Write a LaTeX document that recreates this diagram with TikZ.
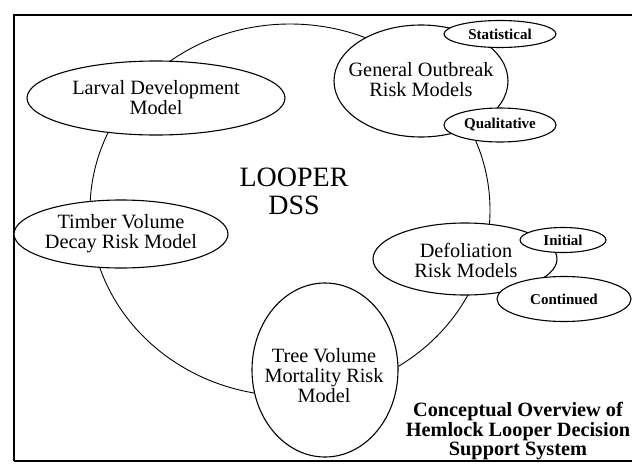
\documentclass[tikz,border=0pt]{standalone}
\usepackage{fontspec}
\setmainfont{Liberation Serif}
\usetikzlibrary{shapes.geometric}
\tikzset{
  bub/.style={draw, ellipse, fill=white, line width=1.1pt, inner sep=0pt},
  txt/.style={align=center, inner sep=0pt, font=\fontsize{20.3}{20}\selectfont},
  small/.style={align=center, inner sep=0pt, font=\fontsize{15}{16}\selectfont\bfseries},
}
\begin{document}
\begin{tikzpicture}[x=1pt,y=-1pt]
\useasboundingbox (0,0) rectangle (632,466);
% frame
\draw[line width=2pt] (14,461) -- (14,15) -- (640,15);
\draw[line width=2pt] (14,461) -- (640,461);
% loop
\node[draw, ellipse, line width=0.9pt, minimum width=400, minimum height=372, inner sep=0pt] (loop) at (290,210) {};
% main ellipses
\node[bub, minimum width=258, minimum height=74] (larval) at (156,98) {};
\node[bub, minimum width=174, minimum height=112] (general) at (421,81) {};
\node[bub, minimum width=214, minimum height=68] (timber) at (121,234) {};
\node[bub, minimum width=184, minimum height=72] (defol) at (465,259) {};
\node[bub, minimum width=146, minimum height=174] (tree) at (325,370) {};
% small ellipses
\node[bub, minimum width=112, minimum height=27] (stat) at (500,34) {};
\node[bub, minimum width=112, minimum height=34] (qual) at (500,125) {};
\node[bub, minimum width=86, minimum height=25] (init) at (563,240) {};
\node[bub, minimum width=134, minimum height=45] (cont) at (564,299) {};
% texts
\node[txt] (tlarval) at (larval) {Larval Development\\Model};
\node[txt] (tgeneral) at (421,80) {General Outbreak\\Risk Models};
\node[txt] (ttimber) at (121,234) {Timber Volume\\Decay Risk Model};
\node[txt] (tdefol) at (466,260) {Defoliation\\Risk Models};
\node[txt] (ttree) at (324,376) {Tree Volume\\Mortality Risk\\Model};
\node[small] (tstat) at (stat) {Statistical};
\node[small] (tqual) at (qual) {Qualitative};
\node[small] (tinit) at (init) {Initial};
\node[small] (tcont) at (cont) {Continued};
\node[align=center, inner sep=0pt, font=\fontsize{28}{28}\selectfont] (dss) at (294,191) {LOOPER\\DSS};
\node[align=center, inner sep=0pt, font=\fontsize{20.3}{17}\selectfont\bfseries] (title) at (518,431) {Conceptual Overview of\\Hemlock Looper Decision\\Support System};
\end{tikzpicture}
\end{document}
